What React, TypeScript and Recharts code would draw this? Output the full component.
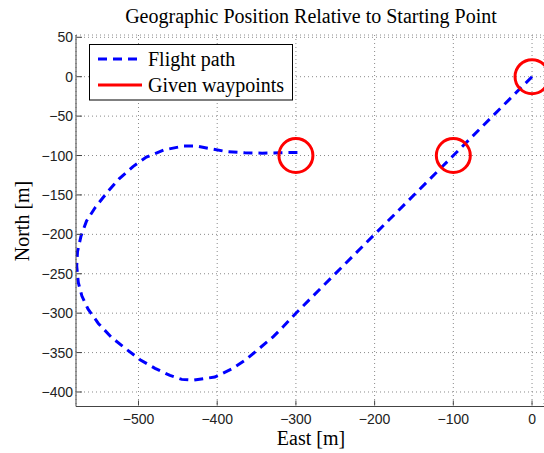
import { ComposedChart, Line, Scatter, XAxis, YAxis, CartesianGrid } from "recharts";

// flight path (east / north in metres, in flight order)
const FLIGHT_EAST = [
  0, -100, -200, -300, -316, -329, -348, -365, -382, -403, -430, -445, -460, -479, -498, -515, -534,
  -551, -564, -572, -576.5, -578.5, -577.5, -573, -566, -555, -540, -525, -507, -490, -468, -443,
  -426, -405, -388, -365, -343, -320, -293,
];
const FLIGHT_NORTH = [
  0, -100, -200, -300, -317, -330, -346, -360, -371, -381, -385, -384, -379, -370, -359, -346, -331,
  -313, -295, -278, -261, -240, -222, -202, -183, -166, -147, -130, -114, -102, -93, -88,
  -88, -92, -95, -96.5, -97, -96.5, -96,
];

const WAYPOINT_EAST = [0, -100, -300];
const WAYPOINT_NORTH = [0, -100, -100];

const X_TICKS = [-500, -400, -300, -200, -100, 0];
const Y_TICKS = [50, 0, -50, -100, -150, -200, -250, -300, -350, -400];
const X_DOMAIN = [-579.4, 15.2];
const Y_DOMAIN = [-418.4, 52.9];

const flight = FLIGHT_EAST.map((x, i) => ({ x, y: FLIGHT_NORTH[i] }));
const waypoints = WAYPOINT_EAST.map((x, i) => ({ x, y: WAYPOINT_NORTH[i] }));

const SERIF = "'Liberation Serif', 'Times New Roman', serif";
const SANS = "'Liberation Sans', Arial, sans-serif";
const AXIS = "#444";

const fmt = (v: number) => (v < 0 ? "\u2212" + Math.abs(v) : String(v));

// ticks point inward, matlab style; label sits outside
function XTick({ x, y, payload }: any) {
  const y0 = y - 1;
  return (
    <g>
      <line x1={x} x2={x} y1={y0} y2={y0 - 5} stroke={AXIS} />
      <text x={x} y={y0 + 18} textAnchor="middle" fontFamily={SANS} fontSize={14} fill="#222">
        {fmt(payload.value)}
      </text>
    </g>
  );
}

function YTick({ x, y, payload }: any) {
  const x0 = x + 1;
  return (
    <g>
      <line x1={x0} x2={x0 + 5} y1={y} y2={y} stroke={AXIS} />
      <text x={x0 - 4} y={y + 5} textAnchor="end" fontFamily={SANS} fontSize={14} fill="#222">
        {fmt(payload.value)}
      </text>
    </g>
  );
}

function Ring({ cx, cy }: any) {
  return <circle cx={cx} cy={cy} r={17} fill="none" stroke="#ff0000" strokeWidth={3} />;
}

export default function App() {
  return (
    <div style={{ position: "absolute", left: 0, top: 0, width: 544, height: 453, background: "#fff" }}>
      <ComposedChart width={544} height={453} margin={{ top: 35, right: 0, bottom: 45.5, left: 75 }}>
        <CartesianGrid stroke="#8a8a8a" strokeDasharray="1 3" />
        <XAxis
          type="number"
          dataKey="x"
          domain={X_DOMAIN}
          ticks={X_TICKS}
          interval={0}
          allowDataOverflow
          height={1}
          tickSize={0}
          tickMargin={0}
          tickLine={false}
          tick={<XTick />}
          axisLine={{ stroke: AXIS }}
        />
        <YAxis
          type="number"
          dataKey="y"
          domain={Y_DOMAIN}
          ticks={Y_TICKS}
          interval={0}
          allowDataOverflow
          width={1}
          tickSize={0}
          tickMargin={0}
          tickLine={false}
          tick={<YTick />}
          axisLine={{ stroke: AXIS }}
        />
        <Line
          data={flight}
          dataKey="y"
          type="linear"
          stroke="#0000ff"
          strokeWidth={3}
          strokeDasharray="9 6"
          dot={false}
          isAnimationActive={false}
        />
        <Scatter data={waypoints} dataKey="y" shape={<Ring />} isAnimationActive={false} />
      </ComposedChart>
      <svg
        width={544}
        height={453}
        style={{ position: "absolute", left: 0, top: 0, pointerEvents: "none" }}
      >
        <text x={311} y={23} textAnchor="middle" fontFamily={SERIF} fontSize={20} fill="#000">
          Geographic Position Relative to Starting Point
        </text>
        <text x={311} y={445} textAnchor="middle" fontFamily={SERIF} fontSize={20} fill="#000">
          East [m]
        </text>
        <text
          transform="translate(29 221) rotate(-90)"
          textAnchor="middle"
          fontFamily={SERIF}
          fontSize={20}
          fill="#000"
        >
          North [m]
        </text>
        {/* legend */}
        <rect x={89.5} y={44.5} width={203} height={55.5} fill="#fff" stroke="#000" />
        <line x1={98} x2={142} y1={59} y2={59} stroke="#0000ff" strokeWidth={3} strokeDasharray="9 6" />
        <text x={148} y={65.5} fontFamily={SERIF} fontSize={20} fill="#000">
          Flight path
        </text>
        <line x1={98} x2={142} y1={85} y2={85} stroke="#ff0000" strokeWidth={3} />
        <text x={148} y={91.5} fontFamily={SERIF} fontSize={20} fill="#000">
          Given waypoints
        </text>
      </svg>
    </div>
  );
}
